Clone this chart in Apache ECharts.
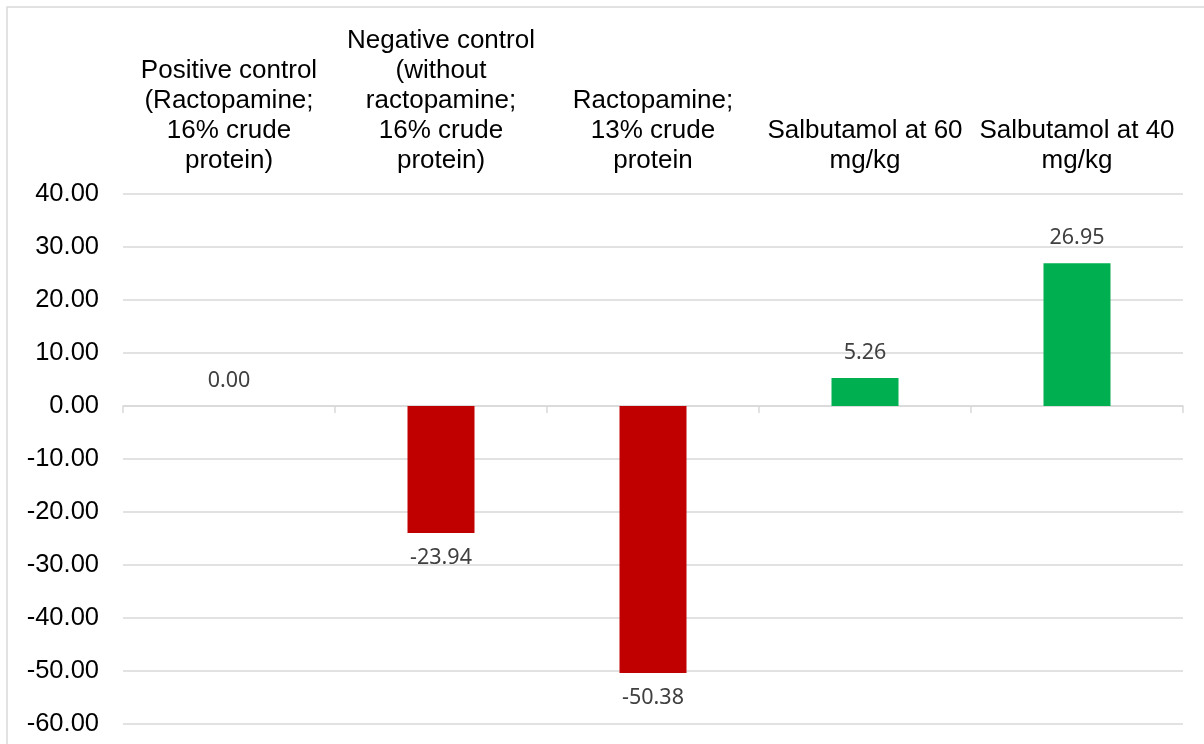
<!DOCTYPE html>
<html>
<head>
<meta charset="utf-8">
<script src="https://cdn.jsdelivr.net/npm/echarts@6/dist/echarts.min.js"></script>
<style>
  html, body { margin: 0; padding: 0; background: #fff; }
  #chart { width: 1204px; height: 744px; }
</style>
</head>
<body>
<div id="chart"></div>
<script>
  // categories (line breaks as in the original chart)
  const categories = [
    'Positive control\n(Ractopamine;\n16% crude\nprotein)',
    'Negative control\n(without\nractopamine;\n16% crude\nprotein)',
    'Ractopamine;\n13% crude\nprotein',
    'Salbutamol at 60\nmg/kg',
    'Salbutamol at 40\nmg/kg'
  ]
  const values = [0.00, -23.94, -50.38, 5.26, 26.95]
  const yTicks = { min: -60, max: 40, interval: 10 }

  const posColor = '#00B050'
  const negColor = '#C00000'
  const gridColor = '#d9d9d9'

  let chart = echarts.init(document.getElementById('chart'))

  let barData = values.map(v => {
    return {
      value: v,
      itemStyle: {color: v < 0 ? negColor : posColor},
      label: {position: v < 0 ? 'bottom' : 'top'}
    }
  })

  let option = {
    animation: false,
    backgroundColor: '#fff',
    graphic: [
      {
        type: 'rect',
        shape: {x: 7, y: 7, width: 1400, height: 1000},
        style: {fill: 'none', stroke: gridColor, lineWidth: 1.5},
        silent: true
      }
    ],
    grid: {
      left: 123,
      right: 21,
      top: 194,
      bottom: 20
    },
    xAxis: [
      {
        type: 'category',
        position: 'top',
        data: categories,
        axisLine: {show: false, onZero: false},
        axisTick: {show: false},
        axisLabel: {
          interval: 0,
          margin: 18,
          fontFamily: 'Liberation Sans, Arial, sans-serif',
          fontSize: 26,
          lineHeight: 30,
          color: '#000'
        }
      },
      {
        type: 'category',
        position: 'bottom',
        data: categories,
        axisLine: {show: true, onZero: true, lineStyle: {color: gridColor, width: 1.5}},
        axisTick: {show: true, length: 7, lineStyle: {color: gridColor, width: 1.5}},
        axisLabel: {show: false}
      }
    ],
    yAxis: {
      type: 'value',
      min: yTicks.min,
      max: yTicks.max,
      interval: yTicks.interval,
      axisLine: {show: false},
      axisTick: {show: false},
      splitLine: {lineStyle: {color: gridColor, width: 1.5}},
      axisLabel: {
        margin: 24,
        fontFamily: 'Liberation Sans, Arial, sans-serif',
        fontSize: 25.5,
        color: '#000',
        formatter: v => v.toFixed(2)
      }
    },
    series: [
      {
        type: 'bar',
        xAxisIndex: 0,
        barWidth: 67,
        data: barData,
        label: {
          show: true,
          distance: 14,
          fontFamily: 'Noto Sans, Open Sans, sans-serif',
          fontSize: 21.5,
          color: '#404040',
          formatter: p => p.value.toFixed(2)
        }
      }
    ]
  }

  chart.setOption(option)
</script>
</body>
</html>
